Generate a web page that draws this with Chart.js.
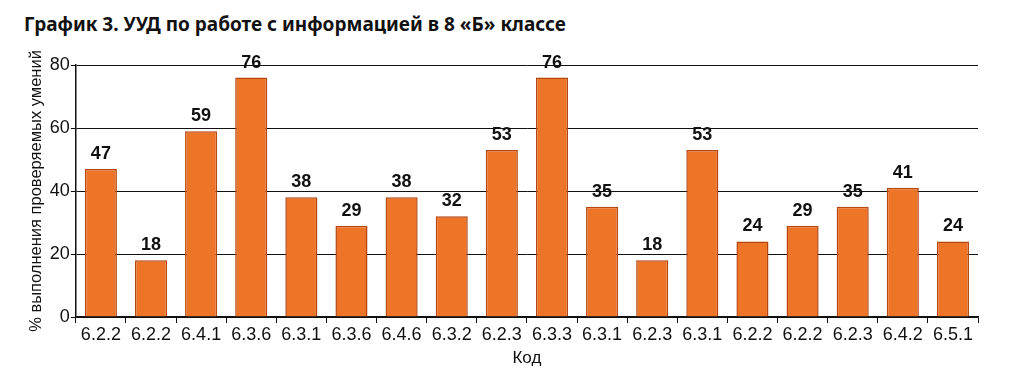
<!DOCTYPE html>
<html>
<head>
<meta charset="utf-8">
<script src="https://cdn.jsdelivr.net/npm/chart.js@4"></script>
<style>
  body { margin: 0; background: #fff; }
  #wrap { position: relative; width: 1024px; height: 386px; }
  h1 { position: absolute; left: 24px; top: 11px; margin: 0; font: bold 19px "Noto Sans", sans-serif; color: #111; }
  #box { position: absolute; left: 0; top: 50px; width: 1000px; height: 336px; }
</style>
</head>
<body>
<div id="wrap">
  <h1>График 3. УУД по работе с информацией в 8 «Б» классе</h1>
  <div id="box"><canvas id="chart"></canvas></div>
</div>
<script>
const codes = ['6.2.2', '6.2.2', '6.4.1', '6.3.6', '6.3.1', '6.3.6', '6.4.6', '6.3.2', '6.2.3',
               '6.3.3', '6.3.1', '6.2.3', '6.3.1', '6.2.2', '6.2.2', '6.2.3', '6.4.2', '6.5.1'];
const percents = [47, 18, 59, 76, 38, 29, 38, 32, 53, 76, 35, 18, 53, 24, 29, 35, 41, 24];
const yTicks = [0, 20, 40, 60, 80];
const FONT = '"Liberation Sans", Arial, sans-serif';

// values above the bars
const barLabels = {
  id: 'barLabels',
  afterDatasetsDraw(chart) {
    const ctx = chart.ctx;
    const meta = chart.getDatasetMeta(0);
    ctx.save();
    ctx.font = 'bold 18px ' + FONT;
    ctx.fillStyle = '#111';
    ctx.textAlign = 'center';
    ctx.textBaseline = 'bottom';
    meta.data.forEach((bar, i) => {
      ctx.fillText(percents[i], bar.x, bar.y - 6);
    });
    ctx.restore();
  }
};

new Chart(document.getElementById('chart'), {
  type: 'bar',
  data: {
    labels: codes,
    datasets: [{
      data: percents,
      backgroundColor: '#ee7428',
      borderColor: '#b4460e',
      borderWidth: 1.5,
      categoryPercentage: 1,
      barPercentage: 0.64
    }]
  },
  options: {
    responsive: true,
    maintainAspectRatio: false,
    animation: false,
    layout: { padding: { left: 23, right: 22, top: 15, bottom: 13 } },
    plugins: { legend: { display: false }, tooltip: { enabled: false } },
    scales: {
      x: {
        offset: true,
        grid: { display: true, drawOnChartArea: false, offset: true, color: '#111', tickLength: 6 },
        border: { color: '#111', width: 1.5 },
        ticks: { color: '#111', font: { size: 18, family: FONT }, padding: 1 },
        title: { display: true, text: 'Код', color: '#111', font: { size: 17, family: FONT }, padding: { top: 2 } }
      },
      y: {
        min: 0, max: 80,
        afterBuildTicks(axis) { axis.ticks = yTicks.map(v => ({ value: v })); },
        grid: { color: '#111', lineWidth: 1, tickLength: 5 },
        border: { color: '#111', width: 1.5 },
        ticks: { color: '#111', font: { size: 18, family: FONT }, padding: 1 },
        title: { display: true, text: '% выполнения проверяемых умений', color: '#111', font: { size: 16.5, family: FONT }, padding: { bottom: 2 } }
      }
    }
  },
  plugins: [barLabels]
});
</script>
</body>
</html>
